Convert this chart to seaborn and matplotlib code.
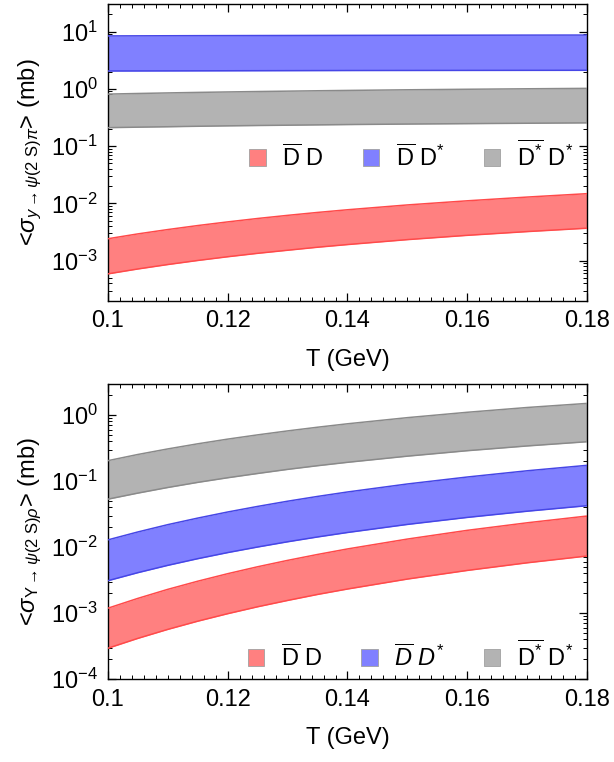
import numpy as np
import pandas as pd
import matplotlib
matplotlib.use("Agg")
import matplotlib.pyplot as plt
import matplotlib.ticker as mticker
from matplotlib.patches import Patch
import seaborn as sns

# Temperature grid (GeV)
T = [0.100, 0.105, 0.110, 0.115, 0.120, 0.125, 0.130, 0.135, 0.140, 0.150, 0.160, 0.170, 0.180]

# Thermally averaged cross sections (mb), lower / upper band edges
# Upper panel: pi channel
pi_dd_lo = [5.87e-4, 7.15e-4, 8.55e-4, 1.007e-3, 1.17e-3, 1.343e-3, 1.52e-3, 1.716e-3, 1.91e-3,
            2.33e-3, 2.77e-3, 3.22e-3, 3.69e-3]
pi_dd_hi = [2.41e-3, 2.93e-3, 3.49e-3, 4.10e-3, 4.75e-3, 5.45e-3, 6.18e-3, 6.95e-3, 7.74e-3,
            9.40e-3, 1.11e-2, 1.29e-2, 1.48e-2]
pi_dds_lo = [2.05, 2.055, 2.06, 2.065, 2.07, 2.075, 2.08, 2.085, 2.09, 2.095, 2.10, 2.105, 2.11]
pi_dds_hi = [8.40, 8.43, 8.46, 8.49, 8.51, 8.53, 8.55, 8.57, 8.59, 8.62, 8.65, 8.68, 8.70]
pi_dsds_lo = [0.210, 0.2143, 0.218, 0.2222, 0.226, 0.2291, 0.232, 0.2351, 0.238,
              0.243, 0.247, 0.251, 0.255]
pi_dsds_hi = [0.810, 0.830, 0.849, 0.867, 0.883, 0.898, 0.912, 0.926, 0.939,
              0.963, 0.984, 1.003, 1.020]

# Lower panel: rho channel
rho_dd_lo = [2.92e-4, 4.12e-4, 5.64e-4, 7.51e-4, 9.76e-4, 1.243e-3, 1.55e-3, 1.911e-3, 2.31e-3,
             3.27e-3, 4.42e-3, 5.77e-3, 7.31e-3]
rho_dd_hi = [1.18e-3, 1.663e-3, 2.28e-3, 3.03e-3, 3.94e-3, 5.02e-3, 6.27e-3, 7.71e-3, 9.35e-3,
             1.32e-2, 1.79e-2, 2.33e-2, 2.95e-2]
rho_dds_lo = [3.08e-3, 4.08e-3, 5.27e-3, 6.65e-3, 8.23e-3, 1.00e-2, 1.20e-2, 1.42e-2, 1.66e-2,
              2.20e-2, 2.81e-2, 3.49e-2, 4.23e-2]
rho_dds_hi = [1.28e-2, 1.688e-2, 2.18e-2, 2.74e-2, 3.39e-2, 4.12e-2, 4.94e-2, 5.84e-2, 6.82e-2,
              9.02e-2, 0.115, 0.143, 0.173]
rho_dsds_lo = [0.053, 0.0655, 0.0797, 0.0953, 0.112, 0.130, 0.150, 0.1705, 0.192,
               0.238, 0.288, 0.340, 0.394]
rho_dsds_hi = [0.203, 0.252, 0.306, 0.366, 0.431, 0.500, 0.574, 0.653, 0.736,
               0.912, 1.10, 1.30, 1.50]

x_ticks = [0.10, 0.12, 0.14, 0.16, 0.18]
x_tick_labels = ["0.1", "0.12", "0.14", "0.16", "0.18"]

labels_top = [r"$\overline{\mathrm{D}}\ \mathrm{D}$",
              r"$\overline{\mathrm{D}}\ \mathrm{D}^{*}$",
              r"$\overline{\mathrm{D}^{*}}\ \mathrm{D}^{*}$"]
labels_bot = [r"$\overline{\mathrm{D}}\ \mathrm{D}$",
              r"$\overline{D}\ D^{*}$",
              r"$\overline{\mathrm{D}^{*}}\ \mathrm{D}^{*}$"]

fills = ["#ff8080", "#8080ff", "#b3b3b3"]
edges = ["#ff4a4a", "#4646e6", "#8a8a8a"]

sns.set_theme(style="ticks")
plt.rcParams["font.family"] = ["Liberation Sans", "DejaVu Sans"]
plt.rcParams["mathtext.fontset"] = "custom"
plt.rcParams["mathtext.rm"] = "Liberation Sans"
plt.rcParams["mathtext.it"] = "Liberation Sans:italic"
plt.rcParams["mathtext.bf"] = "Liberation Sans:bold"
plt.rcParams["axes.linewidth"] = 1.0
for key in ["text.color", "axes.labelcolor", "xtick.color", "ytick.color", "axes.edgecolor"]:
    plt.rcParams[key] = "black"

fig = plt.figure(figsize=(6.14, 7.62), dpi=100)
ax1 = fig.add_axes([0.1754, 0.6054, 0.7811, 0.3890])
ax2 = fig.add_axes([0.1754, 0.1089, 0.7811, 0.3878])


def draw_panel(ax, bands, labels, ylim, ylabel, leg_y):
    for (lo, hi), fc, ec in zip(bands, fills, edges):
        ax.fill_between(T, lo, hi, color=fc, lw=0, zorder=2)
        df = pd.DataFrame({"T": T, "lo": lo, "hi": hi})
        sns.lineplot(data=df, x="T", y="lo", ax=ax, color=ec, lw=1.1, zorder=3)
        sns.lineplot(data=df, x="T", y="hi", ax=ax, color=ec, lw=1.1, zorder=3)
    ax.set_yscale("log")
    ax.set_xlim(0.1, 0.18)
    ax.set_ylim(*ylim)
    ax.xaxis.set_major_locator(mticker.FixedLocator(x_ticks))
    ax.xaxis.set_major_formatter(mticker.FixedFormatter(x_tick_labels))
    ax.xaxis.set_minor_locator(mticker.MultipleLocator(0.002))
    ax.yaxis.set_major_locator(mticker.LogLocator(base=10, numticks=20))
    ax.yaxis.set_minor_locator(mticker.LogLocator(base=10, subs=np.arange(2, 10), numticks=20))
    ax.yaxis.set_minor_formatter(mticker.NullFormatter())
    ax.tick_params(which="both", direction="in", top=True, right=True, color="black")
    ax.tick_params(which="major", length=5.5, width=0.9, labelsize=17, pad=7)
    ax.tick_params(which="minor", length=3, width=0.7)
    ax.set_xlabel("T (GeV)", fontsize=17, labelpad=12)
    ax.set_ylabel(ylabel, fontsize=17, labelpad=5)
    handles = [Patch(facecolor=fc, edgecolor="#a0a0a0", lw=0.6) for fc in fills]
    ax.legend(handles, labels, ncol=3, frameon=False, fontsize=17,
              loc="center right", bbox_to_anchor=(1.0, leg_y),
              handlelength=0.7, handleheight=0.7, handletextpad=0.7,
              columnspacing=1.65, borderaxespad=0.2)


draw_panel(ax1,
           [(pi_dd_lo, pi_dd_hi), (pi_dds_lo, pi_dds_hi), (pi_dsds_lo, pi_dsds_hi)],
           labels_top, (2e-4, 30),
           r"<$\sigma_{y\rightarrow\psi(2\ \mathrm{S})\pi}$> (mb)", 0.49)
draw_panel(ax2,
           [(rho_dd_lo, rho_dd_hi), (rho_dds_lo, rho_dds_hi), (rho_dsds_lo, rho_dsds_hi)],
           labels_bot, (1e-4, 3),
           r"<$\sigma_{\mathrm{Y}\rightarrow\psi(2\ \mathrm{S})\rho}$> (mb)", 0.08)

fig.savefig("out.png", dpi=100)
